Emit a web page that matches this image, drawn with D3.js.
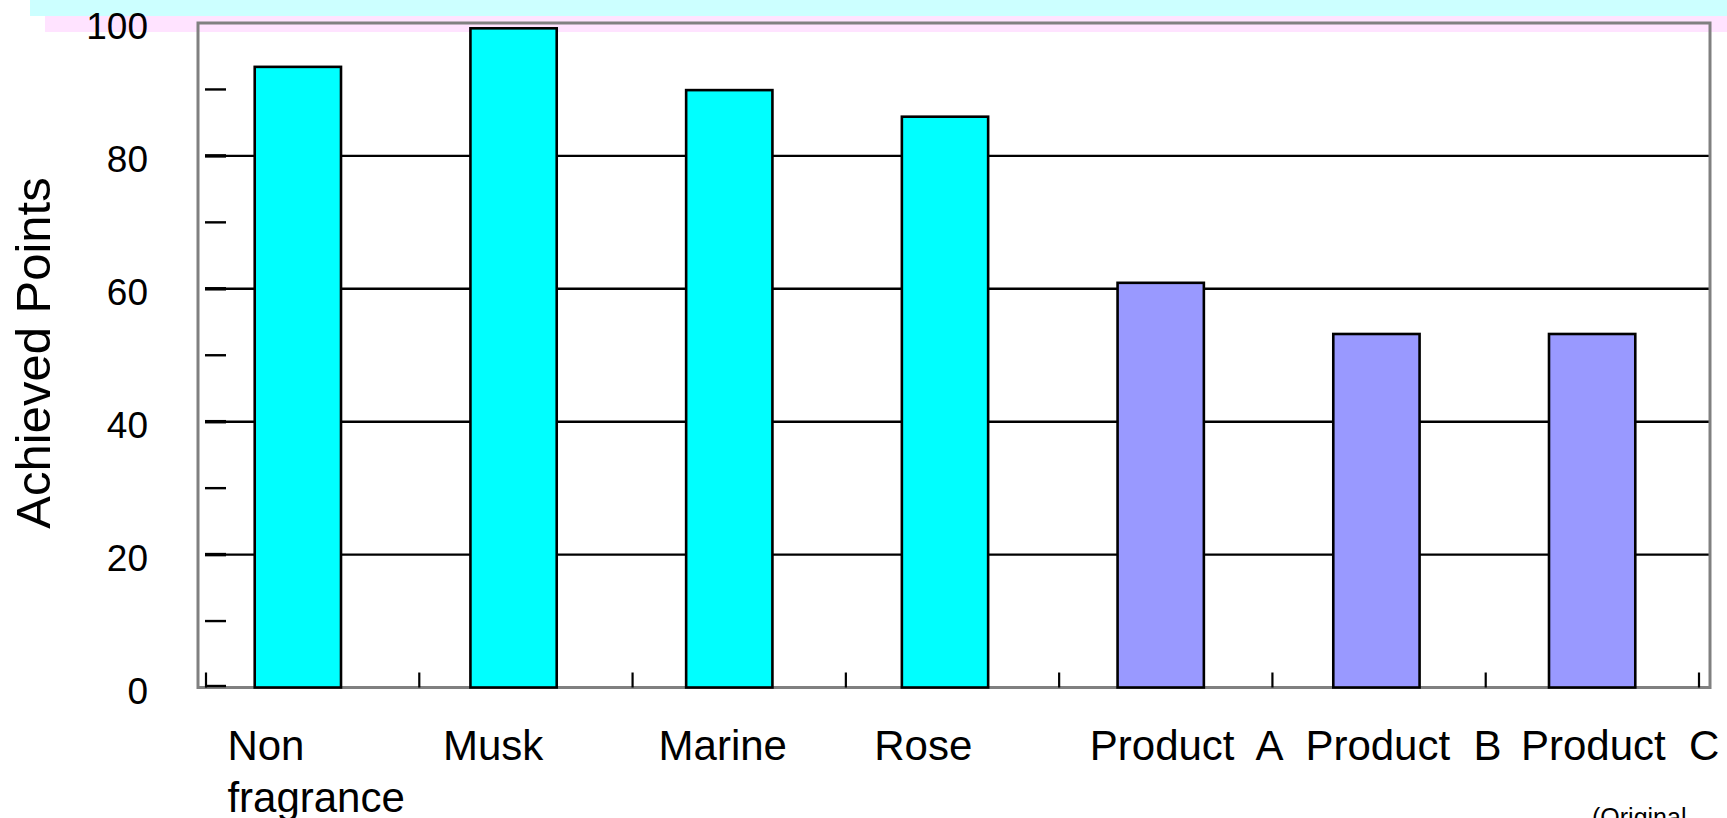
<!DOCTYPE html>
<html>
<head>
<meta charset="utf-8">
<script src="https://cdn.jsdelivr.net/npm/d3@7"></script>
<style>
  html, body { margin: 0; padding: 0; background: #ffffff; }
  svg { display: block; }
  text { font-family: "Liberation Sans", Arial, Helvetica, sans-serif; fill: #000; }
</style>
</head>
<body>
<svg id="chart" width="1727" height="818"></svg>
<script>
// ---- data ----
const categories = ["Non\nfragrance", "Musk", "Marine", "Rose", "Product  A", "Product  B", "Product  C"];
const values = [93.4, 99.2, 89.9, 85.9, 60.9, 53.2, 53.2];
const groups = ["fragrance", "fragrance", "fragrance", "fragrance", "product", "product", "product"];
const yTickLabels = [0, 20, 40, 60, 80, 100];
const gridValues = [20, 40, 60, 80];
const minorTickValues = [0, 10, 20, 30, 40, 50, 60, 70, 80, 90];
const yTitle = "Achieved Points";
const noteText = "(Original";

// ---- layout ----
const W = 1727, H = 818;
const frame = { left: 198, right: 1710, top: 23, bottom: 687.5 };
const colors = { fragrance: "#00ffff", product: "#9999ff" };

const svg = d3.select("#chart");

// decorative header bands
svg.append("rect").attr("x", 30).attr("y", 0).attr("width", W - 30).attr("height", 16).attr("fill", "#ccffff");
svg.append("rect").attr("x", 45).attr("y", 16).attr("width", W - 45).attr("height", 16).attr("fill", "#ffe3ff");

// scales
const y = d3.scaleLinear().domain([0, 100]).range([frame.bottom, frame.top]);
const tickBand = d3.scaleBand().domain(categories).range([206, 1699]).paddingInner(0).paddingOuter(0);
const barBand = d3.scaleBand().domain(categories).range([190, 1700]).paddingInner(0.6).paddingOuter(0.3);
const labelBand = d3.scaleBand().domain(categories).range([227.4, 1736.6]).padding(0);

// gridlines
svg.append("g").selectAll("line").data(gridValues).join("line")
  .attr("x1", 205).attr("x2", frame.right - 1)
  .attr("y1", d => y(d)).attr("y2", d => y(d))
  .attr("stroke", "#000").attr("stroke-width", 2.4);

// frame (no fill so header band shows through at top)
svg.append("rect")
  .attr("x", frame.left).attr("y", frame.top)
  .attr("width", frame.right - frame.left).attr("height", frame.bottom - frame.top)
  .attr("fill", "none").attr("stroke", "#808080").attr("stroke-width", 3);

// left inside ticks (every 10)
svg.append("g").selectAll("line").data(minorTickValues).join("line")
  .attr("x1", 205).attr("x2", 226)
  .attr("y1", d => y(d) - (d === 0 ? 1.5 : 0)).attr("y2", d => y(d) - (d === 0 ? 1.5 : 0))
  .attr("stroke", "#000").attr("stroke-width", d => (d % 20 === 0 && d !== 0) ? 3.5 : 2.4);

// category boundary ticks
const boundaries = categories.map(c => tickBand(c)).concat([tickBand(categories[categories.length - 1]) + tickBand.bandwidth()]);
svg.append("g").selectAll("line").data(boundaries).join("line")
  .attr("x1", d => d).attr("x2", d => d)
  .attr("y1", frame.bottom - 15).attr("y2", frame.bottom)
  .attr("stroke", "#000").attr("stroke-width", 2.2);

// bars
svg.append("g").selectAll("rect").data(values).join("rect")
  .attr("x", (d, i) => barBand(categories[i]))
  .attr("width", barBand.bandwidth())
  .attr("y", d => y(d))
  .attr("height", d => y(0) - y(d))
  .attr("fill", (d, i) => colors[groups[i]])
  .attr("stroke", "#000").attr("stroke-width", 2.6);

// y tick labels
svg.append("g").selectAll("text").data(yTickLabels).join("text")
  .attr("x", 148).attr("y", d => y(d) + 3)
  .attr("dy", "0.36em")
  .attr("text-anchor", "end")
  .style("font-size", "37px")
  .text(d => d);

// x labels (left-aligned text boxes)
const xl = svg.append("g").selectAll("text").data(categories).join("text")
  .attr("x", d => labelBand(d))
  .attr("y", 760)
  .attr("text-anchor", "start")
  .style("font-size", "42px")
  .style("white-space", "pre");
xl.each(function (d) {
  const t = d3.select(this);
  d.split("\n").forEach((ln, k) => {
    t.append("tspan")
      .attr("x", labelBand(d))
      .attr("dy", k === 0 ? 0 : 52)
      .text(ln);
  });
});

// y axis title
svg.append("text")
  .attr("transform", "translate(50,353) rotate(-90)")
  .attr("text-anchor", "middle")
  .style("font-size", "49px")
  .text(yTitle);

// cut-off note at bottom right
svg.append("text")
  .attr("x", 1592).attr("y", 826)
  .style("font-size", "25px")
  .text(noteText);
</script>
</body>
</html>
